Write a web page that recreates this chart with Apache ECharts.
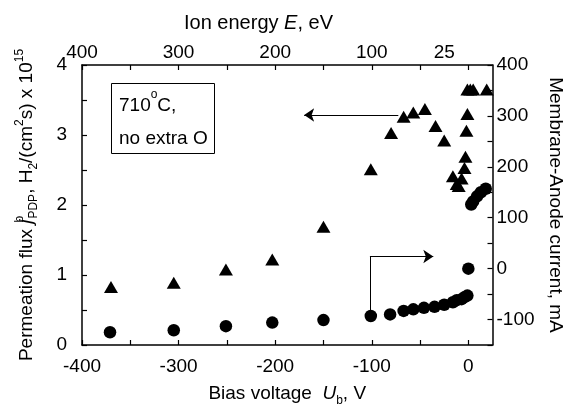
<!DOCTYPE html>
<html><head><meta charset="utf-8">
<script src="https://cdn.jsdelivr.net/npm/echarts@6/dist/echarts.min.js"></script>
<style>html,body{margin:0;padding:0;background:#fff}#c{width:563px;height:413px}</style>
</head><body><div id="c"></div>
<script>
// Bias voltage (V) and permeation flux (left axis, 10^15 H2/(cm^2 s)) – triangles
const fluxBias = [-370,-305,-251,-203,-150,-101,-80,-67,-57,-45,-34,-25,-16,-12,-10,-7,-4,-3,-2,-1,-1,2,5,19];
const fluxValues = [0.83,0.89,1.08,1.22,1.69,2.51,3.03,3.26,3.32,3.37,3.13,2.92,2.41,2.30,2.27,2.38,2.53,2.69,3.06,3.30,3.65,3.65,3.65,3.65];
// Bias voltage (V) and membrane-anode current (right axis, mA) – circles
const currentBias = [-371,-305,-251,-203,-150,-101,-81,-67,-57,-46,-35,-25,-16,-12,-7,-4,-1,0,3,5,9,13,18];
const currentValues = [-125,-121,-113,-106,-101,-93,-90,-83,-80,-77,-75,-71,-66,-62,-60,-56,-53,0,126,132,142,150,157];
// tick labels
const bottomTicks = [-400,-350,-300,-250,-200,-150,-100,-50,0];
const bottomLabels = [-400,-300,-200,-100,0];
const topLabelPos = [-400,-300,-200,-100,-25];
const topLabelText = ['400','300','200','100','25'];
// annotation arrows (data coords)
const fluxArrow = [[-72.5,3.286],[-170,3.286]];
const currentArrowUp = [[-101.9,-84.7],[-101.9,23.8]];
const currentArrowRight = [[-101.9,23.8],[-36.3,23.8]];

const FONT = 'Liberation Sans, Arial, Helvetica, sans-serif';
const FS = 19;
const black = '#000';
function rich(fs){
  return {
    t:{fontFamily:FONT,fontSize:fs,color:black,fontWeight:'normal',lineHeight:26},
    i:{fontFamily:FONT,fontSize:fs,color:black,fontWeight:'normal',fontStyle:'italic',lineHeight:26},
    sup:{fontFamily:FONT,fontSize:12,color:black,fontWeight:'normal',verticalAlign:'top',lineHeight:12},
    supz:{fontFamily:FONT,fontSize:12,color:black,fontWeight:'normal',verticalAlign:'top',lineHeight:12,width:1},
    sub:{fontFamily:FONT,fontSize:12,color:black,fontWeight:'normal',verticalAlign:'bottom',lineHeight:12}
  };
}
const richBase = rich(FS);
const axLine = {show:true,onZero:false,lineStyle:{color:black,width:1.5}};
const axTick = {show:true,inside:true,length:5,lineStyle:{color:black,width:1.2}};
const lbl = {color:black,fontFamily:FONT,fontSize:FS};

const chart = echarts.init(document.getElementById('c'),null,{renderer:'canvas'});
chart.setOption({
  backgroundColor:'#fff',
  animation:false,
  grid:{left:82,right:70.5,top:65,bottom:68,containLabel:false,outerBoundsMode:'none'},
  title:[
    {text:'{t|710}{sup|o}{t|C,}\n{t|no extra O}',left:111,top:83,
     borderColor:black,borderWidth:1,padding:[6,7,6,8],
     textStyle:{fontWeight:'normal',rich:{t:{fontFamily:FONT,fontSize:FS,color:black,fontWeight:'normal',lineHeight:33},sup:{fontFamily:FONT,fontSize:12,color:black,fontWeight:'normal',verticalAlign:'top',lineHeight:26}}}},
    {text:'{t|Ion energy }{i|E}{t|, eV}',left:184,top:10,padding:0,
     textStyle:{fontWeight:'normal',rich:rich(20)}}
  ],
  xAxis:[
    {type:'value',position:'bottom',min:-400,max:25,interval:50,
     axisLine:axLine,axisTick:{...axTick,customValues:bottomTicks},splitLine:{show:false},
     axisLabel:{...lbl,margin:12,customValues:bottomLabels,formatter:v=>String(v)},
     name:'{t|Bias voltage  }{i|U}{sub|b}{t|, V}',nameLocation:'middle',nameGap:36,
     nameTextStyle:{rich:richBase}},
    {type:'value',position:'top',min:-400,max:25,interval:25,
     axisLine:axLine,axisTick:{...axTick,customValues:bottomTicks},splitLine:{show:false},
     axisLabel:{...lbl,margin:3,customValues:topLabelPos,formatter:v=>topLabelText[topLabelPos.indexOf(v)]||''}}
  ],
  yAxis:[
    {type:'value',position:'left',min:0,max:4,interval:0.5,
     axisLine:axLine,axisTick:axTick,splitLine:{show:false},
     axisLabel:{...lbl,margin:15,formatter:v=>(Number.isInteger(v)?String(v):'')},
     name:'{t|Permeation flux }{i|j}{supz|b}{sub|PDP}{t|, H}{sub|2}{t|/(cm}{sup|2}{t|s) x 10}{sup|15}',
     nameLocation:'middle',nameGap:42,nameRotate:90,nameTextStyle:{rich:richBase}},
    {type:'value',position:'right',min:-150,max:400,interval:50,
     axisLine:axLine,axisTick:axTick,splitLine:{show:false},
     axisLabel:{...lbl,margin:4,formatter:v=>(v%100===0?String(v):'')},
     name:'{t|Membrane-Anode current, mA}',nameLocation:'middle',nameGap:37,nameRotate:-90,
     nameTextStyle:{rich:richBase}}
  ],
  series:[
    {type:'scatter',name:'flux',xAxisIndex:0,yAxisIndex:0,symbol:'triangle',symbolSize:[14,12],
     itemStyle:{color:black,opacity:1},data:fluxBias.map((x,i)=>[x,fluxValues[i]])},
    {type:'scatter',name:'current',xAxisIndex:0,yAxisIndex:1,symbol:'circle',symbolSize:12.5,
     itemStyle:{color:black,opacity:1},data:currentBias.map((x,i)=>[x,currentValues[i]])},
    {type:'lines',coordinateSystem:'cartesian2d',xAxisIndex:0,yAxisIndex:0,
     symbol:['none','arrow'],symbolSize:[0,10],lineStyle:{color:black,width:1,opacity:1},
     data:[{coords:fluxArrow}]},
    {type:'lines',coordinateSystem:'cartesian2d',xAxisIndex:0,yAxisIndex:1,
     symbol:['none','none'],lineStyle:{color:black,width:1,opacity:1},
     data:[{coords:currentArrowUp}]},
    {type:'lines',coordinateSystem:'cartesian2d',xAxisIndex:0,yAxisIndex:1,
     symbol:['none','arrow'],symbolSize:[0,10],lineStyle:{color:black,width:1,opacity:1},
     data:[{coords:currentArrowRight}]}
  ]
});
</script></body></html>
